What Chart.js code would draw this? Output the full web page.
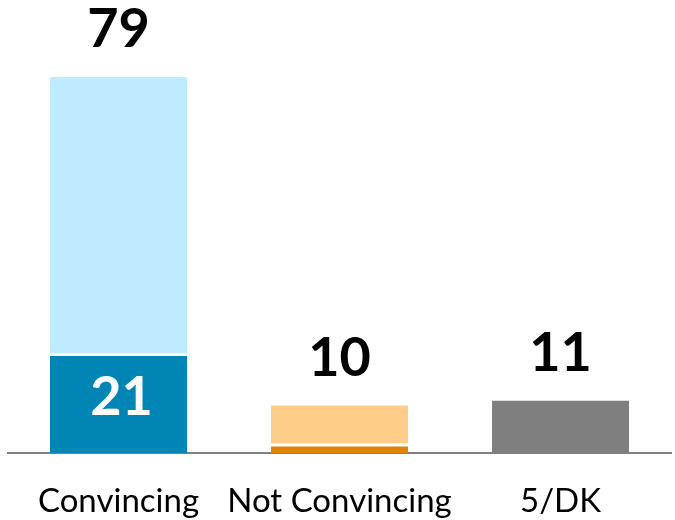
<!DOCTYPE html>
<html>
<head>
<meta charset="utf-8">
<script src="https://cdn.jsdelivr.net/npm/chart.js@4"></script>
<style>
  html, body { margin: 0; padding: 0; background: #fff; }
  #wrap { width: 675px; height: 520px; }
</style>
</head>
<body>
<div id="wrap"><canvas id="chart"></canvas></div>
<script>
// Data
const categories = ['Convincing', 'Not Convincing', '5/DK'];
const strongValues = [21, 2, 11];   // darker bottom segment
const softValues = [58, 8, 0];      // lighter upper segment
const totals = [79, 10, 11];

const strongColors = ['#0085B5', '#E08300', '#7F7F7F'];
const softColors = ['#BEEBFD', '#FFCD8A', '#7F7F7F'];

// draws the totals above the bars and the 21 inside the blue bar
const valueLabels = {
    id: 'valueLabels',
    afterDatasetsDraw(chart) {
        const ctx = chart.ctx;
        const yScale = chart.scales.y;
        const baseMeta = chart.getDatasetMeta(0);
        ctx.save();
        ctx.textAlign = 'center';
        ctx.textBaseline = 'middle';
        ctx.font = 'bold 54px Lato, "Liberation Sans", sans-serif';
        totals.forEach((t, i) => {
            const bar = baseMeta.data[i];
            ctx.fillStyle = '#000';
            ctx.fillText(String(t), bar.x, yScale.getPixelForValue(t) - 47);
        });
        // inside label on the first bar
        const first = baseMeta.data[0];
        ctx.fillStyle = '#fff';
        ctx.fillText(String(strongValues[0]), first.x + 3, (first.y + first.base) / 2 - 5);
        ctx.restore();
    }
};

const ctx = document.getElementById('chart').getContext('2d');
new Chart(ctx, {
    type: 'bar',
    data: {
        labels: categories,
        datasets: [{
            data: strongValues,
            backgroundColor: strongColors,
            borderColor: '#fff',
            // white gap only where a lighter segment sits on top
            borderWidth: c => softValues[c.dataIndex] > 0
                ? { top: 3, left: 0, right: 0, bottom: 0 } : 0,
            borderSkipped: false
        }, {
            data: softValues,
            backgroundColor: softColors,
            borderWidth: 0
        }]
    },
    options: {
        responsive: true,
        maintainAspectRatio: false,
        animation: false,
        datasets: {
            bar: { categoryPercentage: 1, barPercentage: 0.62 }
        },
        layout: {
            padding: { top: 77, left: 8, right: 4, bottom: 0 }
        },
        plugins: {
            legend: { display: false },
            tooltip: { enabled: false }
        },
        scales: {
            x: {
                stacked: true,
                grid: { display: false, drawTicks: false },
                border: { display: true, color: '#7F7F7F', width: 2 },
                ticks: {
                    color: '#000',
                    padding: 29,
                    autoSkip: false,
                    maxRotation: 0,
                    minRotation: 0,
                    font: { family: 'Lato, "Liberation Sans", sans-serif', size: 33 }
                },
                afterFit(scale) {
                    scale.height = 67;
                    scale.paddingLeft = 0;
                    scale.paddingRight = 0;
                }
            },
            y: {
                stacked: true,
                display: false,
                min: 0,
                max: 79
            }
        }
    },
    plugins: [valueLabels]
});
</script>
</body>
</html>
